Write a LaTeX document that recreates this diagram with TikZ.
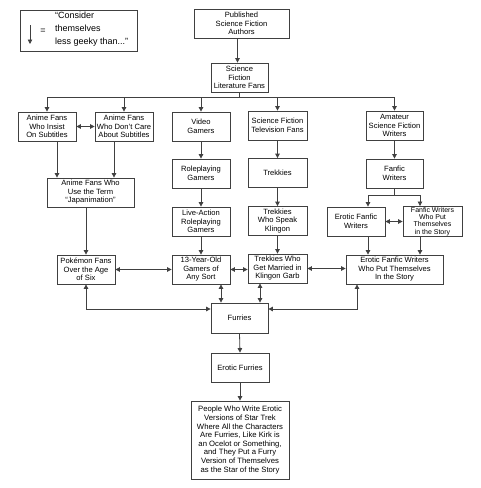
\documentclass[tikz,border=0pt]{standalone}
\usepackage{fontspec}
\setmainfont{Liberation Sans}
\usetikzlibrary{arrows.meta,calc}
\tikzset{
  box/.style={draw=black!75, line width=0.8pt, fill=white, align=center,
    font=\fontsize{7.6}{8.5}\selectfont, inner sep=1pt, minimum width=58pt, minimum height=29pt},
  arr/.style={draw=black!75, line width=0.8pt, -{Triangle[length=4.5pt,width=4.5pt]}},
  darr/.style={draw=black!75, line width=0.8pt, {Triangle[length=4.5pt,width=4.5pt]}-{Triangle[length=4.5pt,width=4.5pt]}},
  ln/.style={draw=black!75, line width=0.8pt},
  legtext/.style={font=\fontsize{9}{13}\selectfont, align=left, inner sep=0pt}
}
\begin{document}
\begin{tikzpicture}[x=1pt,y=-1pt]
\useasboundingbox (0,0) rectangle (480,488);
% legend
\node[draw=black!75, line width=0.8pt, minimum width=117pt, minimum height=41pt] (legend) at (78.5,30.5) {};
\coordinate (la) at (30,25);
\coordinate (lb) at (30,44);
\draw[arr] (la) -- (lb);
\node[legtext] (eq) at (43,31) {=};
\node[legtext, anchor=west] (legt) at (55,29.5) {“Consider\\themselves\\less geeky than...”};
% nodes
\node[box, minimum width=95pt] (pub) at (241.5,23.5) {Published\\Science Fiction\\Authors};
\node[box, minimum width=57pt] (lit) at (239.5,77.5) {Science\\Fiction\\Literature Fans};
\node[box] (insist) at (47,126.5) {Anime Fans\\Who Insist\\On Subtitles};
\node[box] (dontcare) at (124,126.5) {Anime Fans\\Who Don't Care\\About Subtitles};
\node[box] (video) at (201,126.5) {Video\\Gamers};
\node[box, minimum width=59pt] (tv) at (277.5,125.5) {Science Fiction\\Television Fans};
\node[box, minimum width=57pt] (amateur) at (394.5,125.5) {Amateur\\Science Fiction\\Writers};
\node[box, minimum width=87pt] (japan) at (90.5,192.5) {Anime Fans Who\\Use the Term\\“Japanimation”};
\node[box] (rpg) at (201,173.5) {Roleplaying\\Gamers};
\node[box, minimum width=59pt] (trek) at (277.5,173) {Trekkies};
\node[box, minimum width=57pt] (fanfic) at (394.5,173.5) {Fanfic\\Writers};
\node[box] (larp) at (201,221.5) {Live-Action\\Roleplaying\\Gamers};
\node[box, minimum width=59pt] (klingon) at (277.5,221) {Trekkies\\Who Speak\\Klingon};
\node[box] (erfan) at (356,221.5) {Erotic Fanfic\\Writers};
\node[box, minimum width=59pt, font=\fontsize{7}{7.2}\selectfont] (put) at (432.5,221.5) {Fanfic Writers\\Who Put\\Themselves\\in the Story};
\node[box] (poke) at (86,269.5) {Pokémon Fans\\Over the Age\\of Six};
\node[box] (teen) at (201,269.5) {13-Year-Old\\Gamers of\\Any Sort};
\node[box, minimum width=59pt] (married) at (277.5,268.5) {Trekkies Who\\Get Married in\\Klingon Garb};
\node[box, minimum width=97pt] (efwpt) at (394.5,269.5) {Erotic Fanfic Writers\\Who Put Themselves\\In the Story};
\node[box, minimum width=57pt, minimum height=30pt] (furries) at (239.5,318) {Furries};
\node[box] (efur) at (240,367.5) {Erotic Furries};
\node[box, minimum width=98pt, minimum height=78pt, font=\fontsize{7.7}{8.6}\selectfont] (people) at (240,440) {People Who Write Erotic\\Versions of Star Trek\\Where All the Characters\\Are Furries, Like Kirk is\\an Ocelot or Something,\\and They Put a Furry\\Version of Themselves\\as the Star of the Story};
% connectors
\draw[arr] ([xshift=-2pt]lit.north |- pub.south) -- ([xshift=-2pt]lit.north);
\coordinate (bus) at ([yshift=-5pt]lit.south);
\draw[ln] (lit.south) -- (bus);
\draw[ln] (insist.north |- bus) -- (amateur.north |- bus);
\foreach \n in {insist,dontcare,video,tv,amateur} \draw[arr] (\n.north |- bus) -- (\n.north);
\draw[darr] (insist.east) -- (dontcare.west);
\draw[arr] ([xshift=10pt]insist.south) -- ([xshift=10pt]insist.south |- japan.north);
\draw[arr] ([xshift=-10pt]dontcare.south) -- ([xshift=-10pt]dontcare.south |- japan.north);
\draw[arr] (poke.north |- japan.south) -- (poke.north);
\draw[arr] (video.south) -- (rpg.north);
\draw[arr] (rpg.south) -- (larp.north);
\draw[arr] (larp.south) -- (teen.north);
\draw[arr] (tv.south) -- (trek.north);
\draw[arr] (trek.south) -- (klingon.north);
\draw[arr] (klingon.south) -- (married.north);
\draw[arr] (amateur.south) -- (fanfic.north);
\coordinate (fs) at ([yshift=-7pt]fanfic.south);
\draw[ln] (fanfic.south) -- (fs);
\draw[ln] ([xshift=12pt]erfan.north |- fs) -- ([xshift=-12.5pt]put.north |- fs);
\draw[arr] ([xshift=12pt]erfan.north |- fs) -- ([xshift=12pt]erfan.north);
\draw[arr] ([xshift=-12.5pt]put.north |- fs) -- ([xshift=-12.5pt]put.north);
\draw[darr] (erfan.east) -- (put.west);
\draw[arr] ([xshift=12pt]erfan.south) -- ([xshift=12pt]erfan.south |- efwpt.north);
\draw[arr] ([xshift=-12.5pt]put.south) -- ([xshift=-12.5pt]put.south |- efwpt.north);
\draw[darr] (poke.east) -- (teen.west);
\draw[darr] (teen.east) -- (teen.east -| married.west);
\draw[darr] (married.east) -- (married.east -| efwpt.west);
\draw[darr] ([xshift=20pt]teen.south) -- ([xshift=20pt]teen.south |- furries.north);
\draw[darr] ([xshift=-17.5pt]married.south) -- ([xshift=-17.5pt]married.south |- furries.north);
\draw[darr] (poke.south) |- ([yshift=9pt]furries.west);
\draw[darr] ([xshift=-37.5pt]efwpt.south) |- ([yshift=9pt]furries.east);
\draw[arr] (furries.south) -- (efur.north);
\draw[arr] (efur.south) -- (people.north);
\end{tikzpicture}
\end{document}
